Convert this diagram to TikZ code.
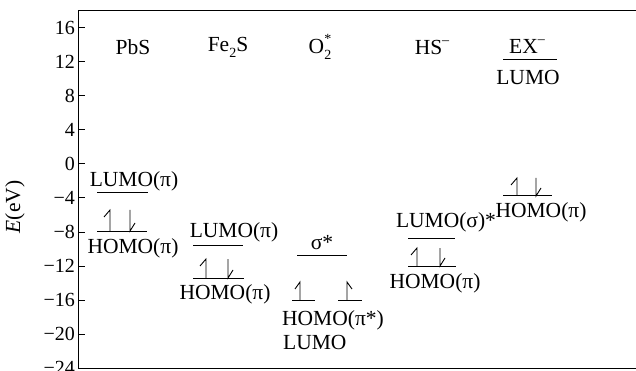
\documentclass[tikz,border=0pt]{standalone}
\usepackage{fontspec}
\setmainfont{Liberation Serif}
\newcommand{\smtxt}{\fontsize{14}{14}\selectfont}
\newcommand{\subsc}[1]{\raisebox{-0.28em}{\smtxt #1}}
\newcommand{\supsc}[1]{\raisebox{0.45em}{\smtxt #1}}
\begin{document}
\begin{tikzpicture}[x=1pt,y=-1pt,
  lab/.style={font=\fontsize{21.5}{23}\selectfont, inner sep=0pt},
  ticklab/.style={font=\fontsize{20}{22}\selectfont, inner sep=0pt, anchor=east},
  axisline/.style={line width=1pt},
  lvl/.style={line width=1pt},
  spin/.style={line width=0.9pt}]
\useasboundingbox (0,0) rectangle (636,371);
% axes
\coordinate (tl) at (78,11);
\coordinate (bl) at (78,368);
\coordinate (tr) at (636,11);
\coordinate (br) at (636,368);
\draw[axisline] (tr) -- (tl) -- (bl) -- (br);
% ticks and labels
\foreach \v/\t in {16/16,12/12,8/8,4/4,0/0,-4/−4,-8/−8,-12/−12,-16/−16,-20/−20,-24/−24}{
  \draw[axisline] (78,164-8.5*\v) -- (85,164-8.5*\v);
  \node[ticklab] (t\v) at (75,164-8.5*\v) {\t};
}
\node[lab, rotate=90] (ylab) at (15,207) {\textit{E}(eV)};
% headers
\node[lab] (hPbS) at (133,47) {PbS};
\node[lab] (hFe) at (228,47) {Fe\subsc{2}S};
\node[lab] (hO) at (320,47) {O\rlap{\supsc{*}}\subsc{2}};
\node[lab] (hHS) at (432,47) {HS\supsc{–}};
\node[lab] (hEX) at (527,46) {EX\supsc{–}};
% PbS
\draw[lvl] (97,193) -- (148,193);
\node[lab] (pbsL) at (134,181) {LUMO(π)};
\draw[lvl] (97,231) -- (147,231);
\draw[spin] (110,231) -- (110,210) -- ++(-6,7);
\draw[spin] (130,210) -- (130,231) -- ++(5,-8);
\node[lab] (pbsH) at (133,248) {HOMO(π)};
% Fe2S
\draw[lvl] (193,245) -- (243,245);
\node[lab] (feL) at (234,232) {LUMO(π)};
\draw[lvl] (193,278) -- (244,278);
\draw[spin] (206,278) -- (206,259) -- ++(-6,7);
\draw[spin] (228,259) -- (228,278) -- ++(5,-8);
\node[lab] (feH) at (225,294) {HOMO(π)};
% O2*
\draw[lvl] (297,255) -- (347,255);
\node[lab] (oS) at (322,243) {σ*};
\draw[lvl] (292,300) -- (315,300);
\draw[lvl] (338,300) -- (362,300);
\draw[spin] (300,300) -- (300,282) -- ++(-5,7);
\draw[spin] (347,300) -- (347,282) -- ++(5,7);
\node[lab] (oH) at (333,320) {HOMO(π*)};
\node[lab, anchor=west] (oL) at (283,342) {LUMO};
% HS-
\draw[lvl] (408,238) -- (455,238);
\node[lab] (hsL) at (446,222) {LUMO(σ)*};
\draw[lvl] (408,266) -- (456,266);
\draw[spin] (417,266) -- (417,248) -- ++(-6,7);
\draw[spin] (440,248) -- (440,266) -- ++(5,-8);
\node[lab] (hsH) at (435,283) {HOMO(π)};
% EX-
\draw[lvl] (503,60) -- (557,60);
\node[lab] (exL) at (528,77) {LUMO};
\draw[lvl] (503,196) -- (552,196);
\draw[spin] (517,196) -- (517,178) -- ++(-6,7);
\draw[spin] (536,178) -- (536,196) -- ++(5,-8);
\node[lab] (exH) at (541,212) {HOMO(π)};
\end{tikzpicture}
\end{document}
